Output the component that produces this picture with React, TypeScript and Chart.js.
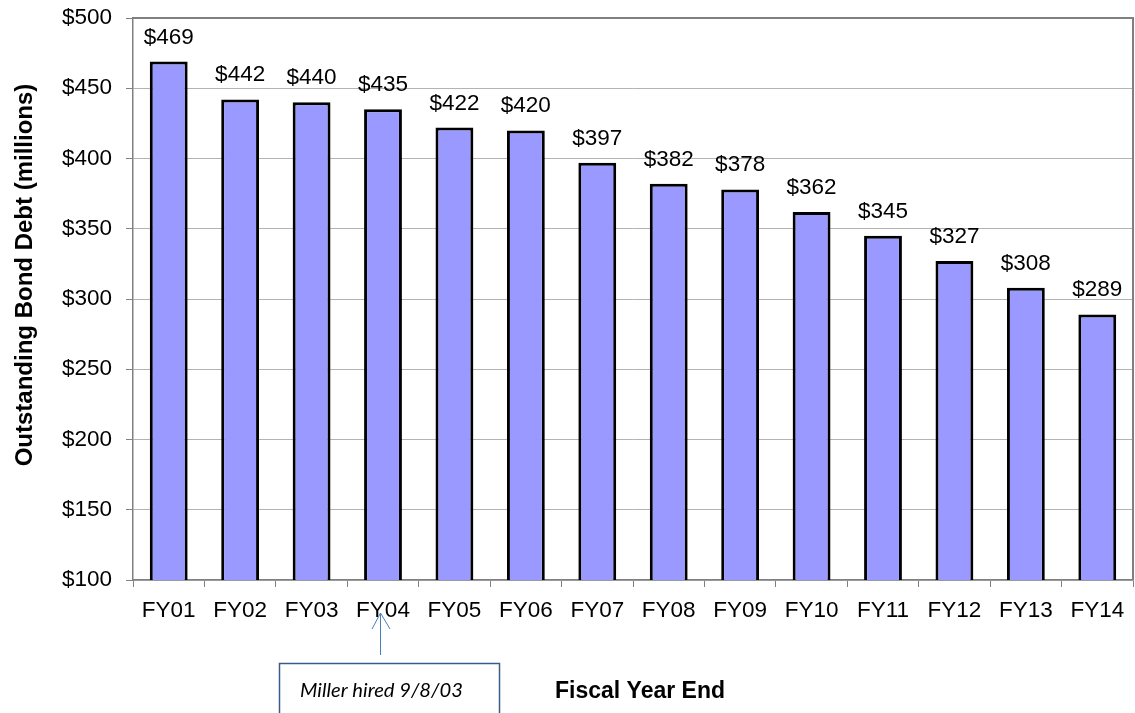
import { useEffect, useRef } from 'react';
import { Chart, registerables } from 'chart.js';

Chart.register(...registerables);

const categories = ['FY01', 'FY02', 'FY03', 'FY04', 'FY05', 'FY06', 'FY07', 'FY08', 'FY09', 'FY10', 'FY11', 'FY12', 'FY13', 'FY14'];
const debtValues = [469, 442, 440, 435, 422, 420, 397, 382, 378, 362, 345, 327, 308, 289];
const yRange = [100, 500];
const yStep = 50;
const yTitle = 'Outstanding Bond Debt (millions)';
const xTitle = 'Fiscal Year End';
const noteText = 'Miller hired 9/8/03';
const noteCategory = 'FY04';

const SANS = "'Liberation Sans', Arial, sans-serif";

export default function App() {
  const ref = useRef<HTMLCanvasElement>(null);

  useEffect(() => {
    const canvas = ref.current;
    if (!canvas) return;

    const decor = {
      id: 'decor',
      afterDatasetsDraw(chart: any) {
        const ctx = chart.ctx as CanvasRenderingContext2D;
        const meta = chart.getDatasetMeta(0);
        ctx.save();
        ctx.fillStyle = '#000';
        ctx.font = `22.5px ${SANS}`;
        ctx.textAlign = 'center';
        ctx.textBaseline = 'alphabetic';
        meta.data.forEach((bar: any, i: number) => {
          ctx.fillText('$' + debtValues[i], bar.x, bar.y - 18);
        });
        ctx.restore();
      },
      afterDraw(chart: any) {
        const ctx = chart.ctx as CanvasRenderingContext2D;
        const area = chart.chartArea;
        ctx.save();
        // top and right border of plot area
        ctx.strokeStyle = '#808080';
        ctx.lineWidth = 2;
        ctx.beginPath();
        ctx.moveTo(area.left, area.top);
        ctx.lineTo(area.right, area.top);
        ctx.lineTo(area.right, area.bottom);
        ctx.stroke();

        // y title
        ctx.save();
        ctx.translate(25, 275);
        ctx.rotate(-Math.PI / 2);
        ctx.fillStyle = '#000';
        ctx.font = `bold 24px ${SANS}`;
        ctx.textAlign = 'center';
        ctx.textBaseline = 'middle';
        ctx.fillText(yTitle, 0, 0);
        ctx.restore();

        // x title
        ctx.fillStyle = '#000';
        ctx.font = `bold 23px ${SANS}`;
        ctx.textAlign = 'center';
        ctx.textBaseline = 'alphabetic';
        ctx.fillText(xTitle, 640, 698);

        // annotation box
        ctx.fillStyle = '#fff';
        ctx.fillRect(279.5, 663.5, 220, 70);
        ctx.strokeStyle = '#385D8A';
        ctx.lineWidth = 1.5;
        ctx.strokeRect(279.5, 663.5, 220, 70);

        // note text, fitted to width
        let size = 20;
        ctx.font = `italic ${size}px Lato, 'Open Sans', sans-serif`;
        const w = ctx.measureText(noteText).width;
        size = size * 163 / w;
        ctx.font = `italic ${size}px Lato, 'Open Sans', sans-serif`;
        ctx.fillStyle = '#000';
        ctx.textAlign = 'left';
        ctx.fillText(noteText, 300, 697);

        // arrow
        const xScale = chart.scales.x;
        const ax = Math.round(xScale.getPixelForValue(categories.indexOf(noteCategory)) - 3) + 0.5;
        ctx.strokeStyle = '#4A7EBB';
        ctx.lineWidth = 1;
        ctx.beginPath();
        ctx.moveTo(ax, 655);
        ctx.lineTo(ax, 613);
        ctx.moveTo(ax - 8.5, 629);
        ctx.lineTo(ax, 613);
        ctx.lineTo(ax + 9.5, 629);
        ctx.stroke();
        ctx.restore();
      },
    };

    const chart = new Chart(canvas, {
      type: 'bar',
      data: {
        labels: categories,
        datasets: [
          {
            data: debtValues,
            backgroundColor: '#9999FF',
            borderColor: '#000000',
            borderWidth: 3,
            borderSkipped: false,
            categoryPercentage: 1,
            barPercentage: 0.53,
          },
        ],
      },
      options: {
        responsive: false,
        animation: false,
        layout: { padding: { top: 18, right: 2, left: 0, bottom: 0 } },
        plugins: {
          legend: { display: false },
          tooltip: { enabled: false },
          title: { display: false },
        },
        scales: {
          x: {
            type: 'category',
            offset: true,
            grid: {
              offset: true,
              drawOnChartArea: false,
              drawTicks: true,
              tickLength: 7,
              color: '#808080',
              lineWidth: 1,
            },
            border: { display: true, color: '#808080', width: 1.5 },
            ticks: {
              font: { family: SANS, size: 22.5 },
              color: '#000',
              padding: 10,
              maxRotation: 0,
              autoSkip: false,
            },
            afterFit(scale: any) {
              scale.height = 133;
              scale.paddingLeft = 0;
              scale.paddingRight = 0;
            },
          },
          y: {
            min: yRange[0],
            max: yRange[1],
            grid: {
              color: '#B3B3B3',
              lineWidth: 1,
              tickLength: 7,
              tickColor: '#808080',
            },
            border: { display: true, color: '#808080', width: 1.5 },
            ticks: {
              stepSize: yStep,
              font: { family: SANS, size: 22.5 },
              color: '#000',
              padding: 14,
              callback: (v: any) => '$' + v,
            },
            afterFit(scale: any) {
              scale.width = 133;
              scale.paddingTop = 0;
              scale.paddingBottom = 0;
            },
          },
        },
      },
      plugins: [decor],
    });

    return () => chart.destroy();
  }, []);

  return (
    <div style={{ position: 'fixed', left: 0, top: 0, width: 1135, height: 713, background: '#fff' }}>
      <canvas ref={ref} width={1135} height={713} style={{ display: 'block' }} />
    </div>
  );
}
